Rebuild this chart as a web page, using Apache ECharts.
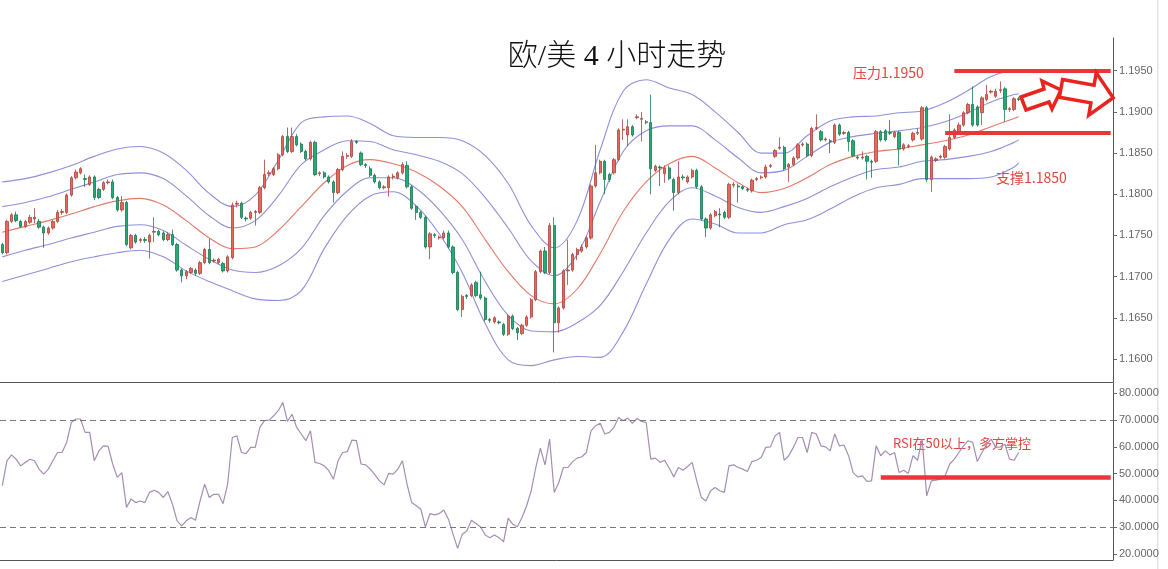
<!DOCTYPE html>
<html><head><meta charset="utf-8">
<script src="https://cdn.jsdelivr.net/npm/echarts@6/dist/echarts.min.js"></script>
<style>html,body{margin:0;padding:0;background:#fff}#c{width:1168px;height:569px}</style>
</head><body><div id="c"></div>
<script>
const openP = [
1.1739,1.1729,1.1767,1.1775,1.1767,1.1761,1.1766,1.1770,1.1767,1.1760,
1.1753,1.1759,1.1767,1.1778,1.1778,1.1799,1.1820,1.1826,1.1819,1.1812,
1.1821,1.1806,1.1806,1.1814,1.1815,1.1796,1.1781,1.1790,1.1735,1.1750,
1.1744,1.1745,1.1742,1.1754,1.1755,1.1753,1.1745,1.1751,1.1739,1.1708,
1.1701,1.1705,1.1708,1.1704,1.1717,1.1733,1.1719,1.1717,1.1716,1.1707,
1.1723,1.1788,1.1789,1.1771,1.1771,1.1778,1.1778,1.1808,1.1825,1.1824,
1.1831,1.1848,1.1870,1.1852,1.1870,1.1861,1.1852,1.1843,1.1863,1.1825,
1.1826,1.1821,1.1815,1.1802,1.1830,1.1846,1.1846,1.1864,1.1850,1.1836,
1.1831,1.1823,1.1815,1.1808,1.1808,1.1821,1.1820,1.1826,1.1835,1.1809,
1.1785,1.1778,1.1772,1.1736,1.1751,1.1747,1.1747,1.1753,1.1736,1.1705,
1.1660,1.1677,1.1677,1.1693,1.1678,1.1674,1.1648,1.1645,1.1645,1.1642,
1.1630,1.1652,1.1637,1.1631,1.1641,1.1651,1.1672,1.1706,1.1731,1.1705,
1.1762,1.1644,1.1662,1.1707,1.1708,1.1727,1.1731,1.1736,1.1747,1.1810,
1.1826,1.1840,1.1824,1.1826,1.1842,1.1878,1.1872,1.1882,1.1893,1.1891,
1.1888,1.1887,1.1829,1.1833,1.1825,1.1832,1.1818,1.1802,1.1821,1.1815,
1.1821,1.1829,1.1809,1.1770,1.1759,1.1774,1.1776,1.1778,1.1772,1.1811,
1.1810,1.1809,1.1806,1.1804,1.1818,1.1820,1.1821,1.1834,1.1846,1.1856,
1.1857,1.1833,1.1836,1.1844,1.1860,1.1861,1.1847,1.1880,1.1876,1.1866,
1.1865,1.1863,1.1884,1.1874,1.1875,1.1865,1.1845,1.1844,1.1846,1.1840,
1.1840,1.1876,1.1877,1.1875,1.1870,1.1875,1.1855,1.1858,1.1866,1.1874,
1.1867,1.1905,1.1818,1.1841,1.1845,1.1845,1.1855,1.1869,1.1876,1.1884,
1.1899,1.1909,1.1906,1.1899,1.1915,1.1924,1.1919,1.1926,1.1928,1.1903,1.1903,1.1916];
const closeP = [
1.1729,1.1767,1.1775,1.1768,1.1761,1.1767,1.1772,1.1772,1.1760,1.1753,
1.1759,1.1767,1.1778,1.1779,1.1799,1.1820,1.1827,1.1831,1.1818,1.1821,
1.1796,1.1796,1.1814,1.1815,1.1796,1.1781,1.1790,1.1739,1.1750,1.1742,
1.1745,1.1744,1.1750,1.1755,1.1751,1.1745,1.1751,1.1739,1.1708,1.1701,
1.1706,1.1710,1.1704,1.1717,1.1733,1.1717,1.1720,1.1721,1.1707,1.1724,
1.1787,1.1789,1.1772,1.1770,1.1778,1.1779,1.1808,1.1824,1.1826,1.1831,
1.1848,1.1870,1.1852,1.1870,1.1860,1.1852,1.1843,1.1863,1.1824,1.1826,
1.1821,1.1815,1.1802,1.1830,1.1846,1.1847,1.1864,1.1863,1.1836,1.1835,
1.1823,1.1815,1.1808,1.1809,1.1821,1.1822,1.1826,1.1836,1.1809,1.1783,
1.1778,1.1772,1.1736,1.1752,1.1750,1.1748,1.1753,1.1736,1.1705,1.1660,
1.1676,1.1676,1.1690,1.1677,1.1674,1.1648,1.1647,1.1650,1.1644,1.1630,
1.1652,1.1637,1.1632,1.1641,1.1651,1.1672,1.1706,1.1731,1.1705,1.1762,
1.1644,1.1662,1.1707,1.1708,1.1727,1.1733,1.1736,1.1747,1.1810,1.1826,
1.1840,1.1818,1.1818,1.1842,1.1878,1.1879,1.1882,1.1872,1.1894,1.1892,
1.1887,1.1831,1.1834,1.1832,1.1832,1.1819,1.1802,1.1821,1.1820,1.1821,
1.1829,1.1809,1.1770,1.1759,1.1775,1.1779,1.1775,1.1772,1.1812,1.1812,
1.1809,1.1807,1.1805,1.1817,1.1819,1.1821,1.1833,1.1835,1.1853,1.1857,
1.1831,1.1836,1.1844,1.1860,1.1861,1.1847,1.1880,1.1881,1.1866,1.1867,
1.1864,1.1884,1.1873,1.1875,1.1864,1.1847,1.1844,1.1845,1.1840,1.1839,
1.1876,1.1866,1.1866,1.1874,1.1875,1.1855,1.1860,1.1859,1.1874,1.1875,
1.1905,1.1818,1.1845,1.1843,1.1846,1.1858,1.1869,1.1878,1.1884,1.1899,
1.1909,1.1884,1.1884,1.1917,1.1921,1.1925,1.1925,1.1927,1.1903,1.1904,1.1916,1.1915];
const lowP = [
1.1727,1.1727,1.1765,1.1766,1.1759,1.1759,1.1764,1.1765,1.1758,1.1735,
1.1751,1.1757,1.1765,1.1775,1.1776,1.1797,1.1818,1.1824,1.1809,1.1810,
1.1793,1.1794,1.1804,1.1812,1.1794,1.1779,1.1779,1.1737,1.1733,1.1740,
1.1741,1.1741,1.1722,1.1742,1.1749,1.1743,1.1743,1.1737,1.1706,1.1693,
1.1697,1.1703,1.1701,1.1702,1.1715,1.1715,1.1717,1.1715,1.1705,1.1705,
1.1721,1.1784,1.1770,1.1767,1.1769,1.1762,1.1776,1.1806,1.1822,1.1822,
1.1829,1.1846,1.1850,1.1850,1.1858,1.1850,1.1841,1.1841,1.1822,1.1822,
1.1819,1.1813,1.1790,1.1800,1.1828,1.1843,1.1844,1.1861,1.1834,1.1832,
1.1821,1.1813,1.1806,1.1806,1.1797,1.1818,1.1818,1.1824,1.1807,1.1781,
1.1769,1.1770,1.1734,1.1721,1.1747,1.1745,1.1745,1.1734,1.1703,1.1658,
1.1651,1.1673,1.1675,1.1675,1.1672,1.1646,1.1644,1.1643,1.1642,1.1628,
1.1628,1.1635,1.1623,1.1629,1.1639,1.1649,1.1670,1.1704,1.1703,1.1703,
1.1608,1.1632,1.1660,1.1690,1.1706,1.1720,1.1729,1.1734,1.1745,1.1808,
1.1824,1.1800,1.1815,1.1824,1.1840,1.1866,1.1858,1.1870,1.1891,1.1864,
1.1885,1.1800,1.1827,1.1810,1.1814,1.1817,1.1780,1.1800,1.1817,1.1813,
1.1819,1.1807,1.1768,1.1748,1.1757,1.1772,1.1760,1.1770,1.1770,1.1808,
1.1790,1.1805,1.1803,1.1802,1.1816,1.1818,1.1819,1.1832,1.1844,1.1854,
1.1829,1.1815,1.1834,1.1842,1.1858,1.1845,1.1845,1.1878,1.1864,1.1864,
1.1850,1.1861,1.1871,1.1872,1.1852,1.1845,1.1842,1.1842,1.1818,1.1820,
1.1838,1.1864,1.1864,1.1872,1.1868,1.1835,1.1853,1.1856,1.1864,1.1872,
1.1865,1.1815,1.1803,1.1839,1.1843,1.1843,1.1853,1.1867,1.1874,1.1882,
1.1897,1.1882,1.1882,1.1884,1.1913,1.1922,1.1917,1.1923,1.1888,1.1900,1.1901,1.1913];
const highP = [
1.1741,1.1769,1.1777,1.1779,1.1769,1.1769,1.1775,1.1783,1.1770,1.1762,
1.1761,1.1769,1.1781,1.1782,1.1801,1.1822,1.1830,1.1833,1.1824,1.1823,
1.1823,1.1808,1.1816,1.1818,1.1818,1.1798,1.1798,1.1792,1.1752,1.1752,
1.1747,1.1748,1.1752,1.1772,1.1757,1.1755,1.1754,1.1757,1.1741,1.1710,
1.1708,1.1712,1.1710,1.1719,1.1735,1.1746,1.1722,1.1723,1.1718,1.1726,
1.1790,1.1792,1.1791,1.1773,1.1780,1.1781,1.1810,1.1842,1.1829,1.1833,
1.1850,1.1872,1.1881,1.1881,1.1873,1.1863,1.1854,1.1865,1.1865,1.1828,
1.1828,1.1823,1.1817,1.1832,1.1852,1.1850,1.1867,1.1866,1.1852,1.1838,
1.1834,1.1825,1.1817,1.1811,1.1823,1.1825,1.1828,1.1839,1.1840,1.1811,
1.1787,1.1780,1.1774,1.1754,1.1753,1.1750,1.1756,1.1756,1.1738,1.1707,
1.1678,1.1679,1.1692,1.1695,1.1706,1.1676,1.1650,1.1652,1.1647,1.1644,
1.1654,1.1654,1.1639,1.1643,1.1653,1.1674,1.1708,1.1733,1.1736,1.1765,
1.1772,1.1664,1.1709,1.1745,1.1729,1.1735,1.1739,1.1749,1.1812,1.1860,
1.1842,1.1842,1.1826,1.1844,1.1880,1.1891,1.1891,1.1884,1.1897,1.1900,
1.1890,1.1921,1.1836,1.1835,1.1835,1.1835,1.1820,1.1840,1.1824,1.1823,
1.1831,1.1831,1.1811,1.1772,1.1777,1.1781,1.1783,1.1780,1.1814,1.1815,
1.1813,1.1811,1.1808,1.1819,1.1821,1.1823,1.1836,1.1837,1.1855,1.1869,
1.1859,1.1838,1.1846,1.1862,1.1863,1.1863,1.1882,1.1897,1.1878,1.1869,
1.1867,1.1886,1.1886,1.1877,1.1877,1.1867,1.1847,1.1852,1.1848,1.1842,
1.1878,1.1878,1.1879,1.1890,1.1877,1.1877,1.1862,1.1861,1.1876,1.1880,
1.1907,1.1907,1.1847,1.1845,1.1848,1.1860,1.1897,1.1880,1.1887,1.1901,
1.1911,1.1931,1.1908,1.1919,1.1933,1.1927,1.1928,1.1937,1.1930,1.1906,1.1918,1.1918];

const rsiVals = [
45.5,54.8,57.0,55.4,52.9,54.2,55.4,54.8,51.7,49.8,
51.7,54.8,57.9,57.9,61.7,69.1,70.4,70.4,65.4,65.4,
54.8,58.5,60.4,60.2,53.6,48.6,50.4,37.4,40.5,39.2,
39.8,39.2,43.0,43.8,43.0,41.1,43.3,38.6,32.4,30.5,
32.4,33.6,32.6,39.8,46.1,41.1,42.3,42.3,38.8,46.1,
63.5,64.1,57.9,57.5,59.8,59.8,67.3,69.8,70.0,71.6,
73.5,76.6,69.5,72.2,67.3,64.8,62.3,66.0,54.2,53.8,
52.9,51.1,47.9,54.8,57.9,58.2,62.5,62.3,53.6,53.3,
51.7,49.6,47.3,45.8,50.1,49.8,51.7,54.8,46.1,39.2,
38.0,36.7,30.1,35.1,34.6,35.1,36.4,33.0,27.4,22.1,
27.4,28.6,32.6,31.4,30.1,27.1,26.1,27.1,26.1,24.6,
33.4,31.1,30.2,33.6,38.0,43.6,52.3,59.5,53.3,62.9,
43.0,46.7,52.3,52.3,54.5,55.8,56.3,57.9,66.0,67.9,
68.8,64.8,65.4,67.3,71.0,69.8,70.7,68.8,70.6,69.5,
69.1,55.4,55.8,54.2,55.0,52.1,48.8,52.3,51.3,52.7,
54.2,47.3,41.1,39.8,43.6,44.8,43.6,43.0,52.9,53.3,
52.3,51.7,50.8,54.5,55.0,56.0,59.8,60.0,64.1,65.4,
55.0,56.7,59.8,63.5,63.5,57.9,65.4,64.8,60.4,60.0,
58.5,64.8,60.4,60.7,56.7,50.4,48.8,49.2,47.1,47.3,
60.4,56.7,58.5,57.0,57.9,50.4,51.3,50.1,56.7,55.0,
62.9,41.7,47.3,47.6,47.9,49.2,53.6,55.4,57.9,60.4,
62.3,61.7,54.5,57.9,60.8,62.9,59.8,60.0,61.0,55.4,55.0,57.9];

const bandIdx = [0,5,10,15,20,25,30,35,40,45,50,55,60,65,70,75,80,85,90,95,100,105,110,115,120,125,130,135,140,145,150,155,160,165,170,175,180,185,190,195,200,205,210,215,220,221];
const bandMid = [1.1754,1.1761,1.1768,1.1776,1.1785,1.1792,1.1795,1.1787,1.1768,1.1747,1.1734,1.1736,1.1756,1.1785,1.1814,1.1835,1.1842,1.1837,1.1827,1.1810,1.1785,1.1745,1.1706,1.1677,1.1667,1.1685,1.1728,1.1779,1.1815,1.1837,1.1846,1.1832,1.1814,1.1802,1.1807,1.1820,1.1836,1.1846,1.1852,1.1855,1.1860,1.1865,1.1872,1.1882,1.1892,1.1894];
const bandUp2 = [1.1815,1.1819,1.1826,1.1835,1.1846,1.1855,1.1858,1.1850,1.1829,1.1801,1.1785,1.1799,1.1841,1.1887,1.1894,1.1895,1.1886,1.1871,1.1869,1.1869,1.1865,1.1847,1.1813,1.1762,1.1735,1.1768,1.1854,1.1925,1.1939,1.1929,1.1921,1.1900,1.1875,1.1850,1.1850,1.1871,1.1889,1.1894,1.1895,1.1899,1.1901,1.1911,1.1926,1.1943,1.1950,1.1950];
const bandUp1 = [1.1785,1.1790,1.1797,1.1806,1.1815,1.1824,1.1826,1.1819,1.1798,1.1774,1.1759,1.1768,1.1798,1.1836,1.1854,1.1865,1.1864,1.1854,1.1848,1.1840,1.1825,1.1796,1.1759,1.1719,1.1701,1.1727,1.1791,1.1852,1.1877,1.1883,1.1883,1.1866,1.1844,1.1826,1.1829,1.1846,1.1863,1.1870,1.1874,1.1877,1.1881,1.1888,1.1899,1.1912,1.1921,1.1922];
const bandLo1 = [1.1724,1.1732,1.1739,1.1747,1.1754,1.1761,1.1763,1.1756,1.1738,1.1721,1.1708,1.1705,1.1713,1.1734,1.1774,1.1804,1.1820,1.1820,1.1807,1.1781,1.1745,1.1694,1.1653,1.1634,1.1633,1.1644,1.1665,1.1706,1.1753,1.1791,1.1808,1.1798,1.1784,1.1778,1.1785,1.1795,1.1809,1.1821,1.1830,1.1833,1.1840,1.1842,1.1846,1.1852,1.1863,1.1866];
const bandLo2 = [1.1694,1.1702,1.1710,1.1718,1.1724,1.1729,1.1732,1.1724,1.1707,1.1694,1.1683,1.1673,1.1671,1.1683,1.1734,1.1774,1.1798,1.1803,1.1786,1.1752,1.1705,1.1643,1.1599,1.1592,1.1599,1.1603,1.1602,1.1633,1.1691,1.1745,1.1770,1.1764,1.1753,1.1753,1.1763,1.1769,1.1782,1.1797,1.1808,1.1812,1.1819,1.1819,1.1819,1.1821,1.1833,1.1838];

const priceTicks = [1.1600,1.1650,1.1700,1.1750,1.1800,1.1850,1.1900,1.1950];
const rsiTicks = [20,30,40,50,60,70,80];
const resistanceLevel = 1.1950;
const supportLevel = 1.1875;
const rsiRefLevel = 48.8;
const rsiBands = [70, 30];
const totalSlots = 242;

const cats = Array.from({length: totalSlots}, (_, i) => 'b' + i);
const candles = openP.map((o, i) => [o, closeP[i], lowP[i], highP[i]]);
const band = arr => bandIdx.map((ix, k) => [ix, arr[k]]);
const rsiData = rsiVals.map((v, i) => [i, v]);

const chart = echarts.init(document.getElementById('c'));
const axisTxt = {color:'#666', fontSize:11, fontFamily:'"Liberation Sans", Arial, sans-serif'};
const bandLine = (name, arr, color) => ({
  name, type:'line', xAxisIndex:0, yAxisIndex:0, data: band(arr), smooth:0.35,
  symbol:'none', silent:true, lineStyle:{color, width:1.1}, z:1
});

chart.setOption({
  animation:false,
  backgroundColor:'#fff',
  grid:[{left:0,right:55,top:38,height:344},{left:0,right:55,top:383,height:177}],
  xAxis:[
    {gridIndex:0,type:'category',data:cats,boundaryGap:true,axisLine:{show:true,lineStyle:{color:'#555'}},axisTick:{show:false},axisLabel:{show:false},splitLine:{show:false}},
    {gridIndex:1,type:'category',data:cats,boundaryGap:true,axisLine:{show:true,lineStyle:{color:'#555'}},axisTick:{show:false},axisLabel:{show:false},splitLine:{show:false}}
  ],
  yAxis:[
    {gridIndex:0,type:'value',position:'right',min:1.15721,max:1.19897,
     axisLine:{show:true,lineStyle:{color:'#555'}},
     axisTick:{show:true,length:4,lineStyle:{color:'#666'},customValues:priceTicks},
     axisLabel:Object.assign({customValues:priceTicks,margin:6,formatter:v=>v.toFixed(4)},axisTxt),
     splitLine:{show:false}},
    {gridIndex:1,type:'value',position:'right',min:17.76,max:83.85,
     axisLine:{show:true,lineStyle:{color:'#555'}},
     axisTick:{show:true,length:4,lineStyle:{color:'#666'},customValues:rsiTicks},
     axisLabel:Object.assign({customValues:rsiTicks,margin:6,formatter:v=>v.toFixed(4)},axisTxt),
     splitLine:{show:false}}
  ],
  series:[
    bandLine('上轨2', bandUp2, '#8e90d9'),
    bandLine('上轨1', bandUp1, '#8e90d9'),
    bandLine('中轨', bandMid, '#e27a68'),
    bandLine('下轨1', bandLo1, '#8e90d9'),
    bandLine('下轨2', bandLo2, '#8e90d9'),
    {name:'EUR/USD', type:'candlestick', xAxisIndex:0, yAxisIndex:0, data:candles, barWidth:2.8, z:3,
     itemStyle:{color:'#e9675c', color0:'#21ad74', borderColor:'#a9443b', borderColor0:'#1c7450', borderWidth:0.8},
     markLine:{symbol:'none', silent:true, label:{show:false}, z:5,
       lineStyle:{color:'#e8363a', width:4, type:'solid'},
       data:[[{coord:[207,resistanceLevel]},{coord:[241,resistanceLevel]}],
             [{coord:[205,supportLevel]},{coord:[241,supportLevel]}]]}},
    {name:'RSI', type:'line', xAxisIndex:1, yAxisIndex:1, data:rsiData, symbol:'none', silent:true,
     lineStyle:{color:'#a58db3', width:1.2},
     markLine:{symbol:'none', silent:true, label:{show:false},
       data:[
         {yAxis:rsiBands[0], lineStyle:{color:'#777', width:1, type:[6,4]}},
         {yAxis:rsiBands[1], lineStyle:{color:'#777', width:1, type:[6,4]}},
         [{coord:[191,rsiRefLevel], lineStyle:{color:'#e8363a', width:4.5, type:'solid'}},{coord:[241,rsiRefLevel]}]
       ]}}
  ],
  graphic:[
    {type:'rect', shape:{x:1157,y:0,width:1.5,height:569}, style:{fill:'#e4e4e4'}, silent:true},
    {type:'text', x:617, y:57, style:{text:'欧/美 4 小时走势', fill:'#111', align:'center', verticalAlign:'middle',
      font:'300 30px "Liberation Serif", "Noto Sans CJK SC", serif'}},
    {type:'text', x:853, y:73, style:{text:'压力1.1950', fill:'#e0463f', verticalAlign:'middle',
      font:'14px "Noto Sans CJK SC", sans-serif'}},
    {type:'text', x:996, y:178, style:{text:'支撑1.1850', fill:'#e0463f', verticalAlign:'middle',
      font:'14px "Noto Sans CJK SC", sans-serif'}},
    {type:'text', x:893, y:443, style:{text:'RSI在50以上，多方掌控', fill:'#e0463f', verticalAlign:'middle',
      font:'13px "Noto Sans CJK SC", sans-serif'}},
    {type:'polygon', shape:{points:[[1021,97],[1044,89],[1042,81],[1061,90],[1052,109],[1049,102],[1026,110]]},
      style:{fill:'#fff', stroke:'#e8241f', lineWidth:3.5, lineJoin:'miter'}, z:10},
    {type:'polygon', shape:{points:[[1062.6,79.5],[1094.1,85.1],[1096.2,72.8],[1113.2,97.7],[1088.8,115.2],[1090.9,102.9],[1059.4,97.3]]},
      style:{fill:'#fff', stroke:'#e8241f', lineWidth:3.5, lineJoin:'miter'}, z:10}
  ]
});
</script>
</body></html>
